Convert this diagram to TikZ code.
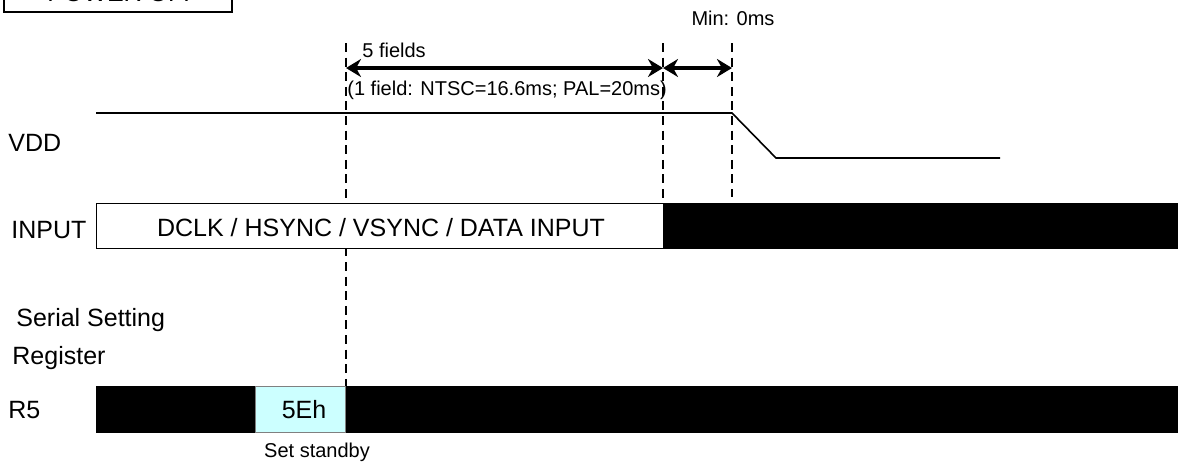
\documentclass[tikz,border=0pt]{standalone}
\usepackage{fontspec}
\setmainfont{Liberation Sans}
\usetikzlibrary{positioning,arrows.meta}
\definecolor{regcyan}{HTML}{CCFFFF}
\tikzset{
  lbl/.style={font=\fontsize{12.5}{15}\selectfont, inner sep=0pt},
  note/.style={font=\fontsize{10}{12}\selectfont, inner sep=0pt},
  guide/.style={dash pattern=on 4.5pt off 2.8pt, line width=1.3pt},
  span/.style={{Stealth[length=7.5pt,width=9pt]}-{Stealth[length=7.5pt,width=9pt]},
               line width=1.6pt},
  busbar/.style={draw, line width=0.5pt},
}

\begin{document}
\begin{tikzpicture}[x=0.5pt, y=-0.5pt]
  \clip (0,0) rectangle (1187,467);
  % title box, cut off at the top
  \draw[line width=0.7pt] (4,-40) rectangle (232,12);
  \node[lbl, anchor=base] (title) at (123,1) {POWER OFF};

  % signal names
  \node[lbl, anchor=west] (vdd) at (8,143) {VDD};
  \node[lbl, anchor=west] (inp) at (11,230) {INPUT};
  \node[lbl, anchor=west] (ser) at (16,320) {Serial Setting};
  \node[lbl, anchor=west] (reg) at (12,358) {Register};
  \node[lbl, anchor=west] (r5) at (8,410) {R5};

  % guide lines
  \coordinate (g1) at (346,43);
  \coordinate (g2) at (663,43);
  \coordinate (g3) at (732,43);
  \draw[guide] (g1) -- (346,386);
  \draw[guide] (g2) -- (663,203);
  \draw[guide] (g3) -- (732,197);

  % spans
  \coordinate (a1) at (346,68);
  \coordinate (a2) at (663,68);
  \coordinate (a3) at (732,68);
  \draw[span] (a1) -- (a2);
  \draw[span] (a2) -- (a3);
  \node[note, anchor=west] (nf) at (362,50) {5 fields};
  \node[note, anchor=west] (fd) at (347,90) {(1 field: NTSC=16.6ms; PAL=20ms)};
  \node[note] (mn) at (733,18) {Min: 0ms};

  % VDD
  \coordinate (v0) at (96,113);
  \coordinate (v1) at (732,113);
  \coordinate (v2) at (776,158);
  \coordinate (v3) at (1000,158);
  \draw[line width=0.8pt] (v0) -- (v1) -- (v2) -- (v3);

  % INPUT
  \draw[busbar, fill=white] (96,203) rectangle (663,248);
  \draw[busbar, fill=black] (663,203) rectangle (1177,248);
  \node[lbl] (din) at (381,228) {DCLK / HSYNC / VSYNC / DATA INPUT};

  % R5
  \draw[busbar, fill=black] (96,386) rectangle (1177,432);
  \draw[busbar, draw=gray, fill=regcyan] (255,386) rectangle (345,432);
  \node[lbl] (reh) at (304,410) {5Eh};
  \node[note] (sb) at (317,452) {Set standby};
\end{tikzpicture}
\end{document}
